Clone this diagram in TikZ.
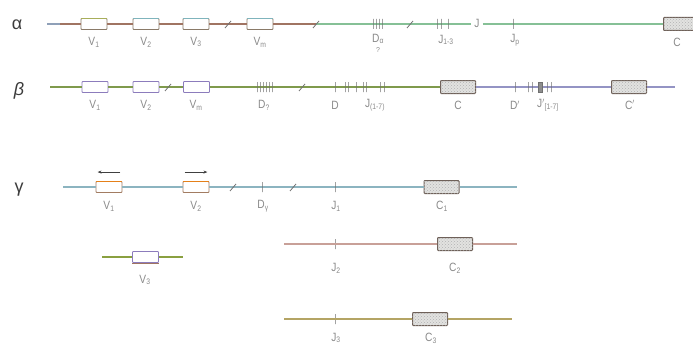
\documentclass[tikz,border=0pt]{standalone}
\usepackage{fontspec}
\setsansfont{Liberation Sans}
\usetikzlibrary{patterns,arrows.meta}
\definecolor{labcol}{HTML}{8A8A8A}
\definecolor{greekcol}{HTML}{3C3C3C}
\definecolor{stubA}{HTML}{8FA0B8}
\definecolor{brownA}{HTML}{A07462}
\definecolor{greenA}{HTML}{86C096}
\definecolor{oliveB}{HTML}{7F9A4C}
\definecolor{lavB}{HTML}{9494C4}
\definecolor{tealG}{HTML}{8CB4C0}
\definecolor{oliveV}{HTML}{8AA040}
\definecolor{pinkJ}{HTML}{C8A098}
\definecolor{tanJ}{HTML}{B4A464}
\definecolor{boxA}{HTML}{8A7A68}
\definecolor{boxB}{HTML}{8C7CBC}
\definecolor{boxG}{HTML}{A27C62}
\definecolor{cedge}{HTML}{6E6058}
\definecolor{cfill}{HTML}{E2E2E0}
\definecolor{barcol}{HTML}{707070}
\definecolor{topY}{HTML}{A8AE5A}
\definecolor{topC}{HTML}{7FB4BC}
\newcommand\topedge[2]{\draw[#2, line width=0.9pt] (#1.north west) -- (#1.north east);}
\newcommand\lbl[1]{\scalebox{0.85}[1]{#1}}
\begin{document}
\begin{tikzpicture}[x=1pt,y=-1pt,
  geneline/.style={line width=1.3pt},
  vbox/.style={draw=#1, fill=white, minimum width=26pt, minimum height=11pt, inner sep=0pt, line width=0.9pt, rounded corners=0.8pt},
  cbox/.style={draw=cedge, fill=cfill, minimum width=35pt, minimum height=13pt, inner sep=0pt, line width=1pt, rounded corners=0.8pt,
    postaction={pattern=crosshatch dots, pattern color=black!30}},
  bar/.style={draw=barcol, minimum height=10pt, minimum width=0pt, inner sep=0pt, line width=0.8pt},
  blockbar/.style={draw=barcol, fill=barcol!80, minimum height=10pt, minimum width=4pt, inner sep=0pt, line width=0.5pt},
  brk/.style={draw=barcol, line width=0.8pt},
  lab/.style={text=labcol, font=\sffamily\fontsize{12}{12}\selectfont, inner sep=0pt},
  greek/.style={text=greekcol, font=\sffamily\fontsize{18}{18}\selectfont, inner sep=0pt},
  dirarrow/.style={draw=black!75, line width=0.8pt, -{Stealth[length=4pt,width=3pt]}}
]
\useasboundingbox (0,0) rectangle (693,345);

% ---------------- alpha locus ----------------
\node[greek] (alpha) at (17,25) {α};
\coordinate (aS) at (47,24);
\coordinate (aT) at (60,24);
\node[vbox=boxA] (aV1) at (94,24) {};
\node[vbox=boxA] (aV2) at (146,24) {};
\node[vbox=boxA] (aV3) at (196,24) {};
\coordinate (aB1) at (228,24);
\node[vbox=boxA] (aVm) at (260,24) {};
\coordinate (aB2) at (316,24);
\coordinate (aB3) at (410,24);
\node[text=labcol, font=\sffamily\fontsize{12}{12}\selectfont, inner sep=3pt, anchor=center] (aJ) at (477,24) {\raisebox{1pt}{\lbl{J}}};
\node[cbox] (aC) at (681,24) {};
\draw[geneline, stubA] (aS) -- (aT);
\draw[geneline, brownA] (aT) -- (aV1) -- (aV2) -- (aV3) -- (aVm) -- (aB2);
\draw[geneline, greenA] (aB2) -- (aJ) -- (aC);
\topedge{aV1}{topY}
\topedge{aV2}{topC}
\topedge{aV3}{topC}
\topedge{aVm}{topC}
\draw[brk] ([shift={(-3,4)}]aB1) -- ([shift={(3,-3)}]aB1);
\draw[brk] ([shift={(-3,4)}]aB2) -- ([shift={(3,-3)}]aB2);
\draw[brk] ([shift={(-3,4)}]aB3) -- ([shift={(3,-3)}]aB3);
\foreach \x/\n in {373/1,376/2,379/3,382/4} \node[bar] (aD\n) at (\x,24) {};
\foreach \x/\n in {437/1,441/2,448/3} \node[bar] (aJJ\n) at (\x,24) {};
\node[bar] (aJp) at (513,24) {};
\node[lab] (laV1) at (94,42) {\lbl{V\textsubscript{1}}};
\node[lab] (laV2) at (146,42) {\lbl{V\textsubscript{2}}};
\node[lab] (laV3) at (196,42) {\lbl{V\textsubscript{3}}};
\node[lab] (laVm) at (260,42) {\lbl{V\textsubscript{m}}};
\node[lab] (laD) at (378,39) {\lbl{D\textsubscript{α}}};
\node[lab, font=\sffamily\fontsize{7}{7}\selectfont] (laDq) at (378,50) {?};
\node[lab] (laJ) at (446,40) {\lbl{J\textsubscript{1-3}}};
\node[lab] (laJp) at (515,40) {\lbl{J\textsubscript{p}}};
\node[lab] (laC) at (677,42) {\lbl{C}};

% ---------------- beta locus ----------------
\node[greek, font=\sffamily\itshape\fontsize{18}{18}\selectfont] (beta) at (19,91) {β};
\coordinate (bS) at (50,87);
\node[vbox=boxB] (bV1) at (95,87) {};
\node[vbox=boxB] (bV2) at (146,87) {};
\coordinate (bB1) at (168,87);
\node[vbox=boxB] (bVm) at (196.5,87) {};
\coordinate (bB2) at (302,87);
\node[cbox] (bC) at (458,87) {};
\node[cbox] (bCp) at (629,87) {};
\coordinate (bE) at (675,87);
\draw[geneline, oliveB] (bS) -- (bV1) -- (bV2) -- (bVm) -- (bC);
\draw[geneline, lavB] (bC) -- (bCp) -- (bE);
\draw[brk] ([shift={(-3,4)}]bB1) -- ([shift={(3,-3)}]bB1);
\draw[brk] ([shift={(-3,4)}]bB2) -- ([shift={(3,-3)}]bB2);
\foreach \x/\n in {257/1,260/2,263/3,266/4,269/5,272/6} \node[bar] (bDg\n) at (\x,87) {};
\node[bar] (bD) at (335,87) {};
\foreach \x/\n in {345/1,348/2,356/3,363/4,366/5,380/6,384/7} \node[bar] (bJ\n) at (\x,87) {};
\node[bar] (bDp) at (515,87) {};
\foreach \x/\n in {528/1,532/2,547/3,551/4} \node[bar] (bJp\n) at (\x,87) {};
\node[blockbar] (bJpk) at (540,87) {};
\node[lab] (lbV1) at (95,105) {\lbl{V\textsubscript{1}}};
\node[lab] (lbV2) at (146,105) {\lbl{V\textsubscript{2}}};
\node[lab] (lbVm) at (196,105) {\lbl{V\textsubscript{m}}};
\node[lab] (lbDg) at (264,105) {\lbl{D\textsubscript{?}}};
\node[lab] (lbD) at (335,105) {\lbl{D}};
\node[lab] (lbJ) at (375,105) {\lbl{J\textsubscript{(1-7)}}};
\node[lab] (lbC) at (458,105) {\lbl{C}};
\node[lab] (lbDp) at (515,105) {\lbl{D$'$}};
\node[lab] (lbJp) at (548,105) {\lbl{J$'$\textsubscript{[1-7]}}};
\node[lab] (lbCp) at (630,105) {\lbl{C$'$}};

% ---------------- gamma locus ----------------
\node[greek] (gamma) at (19,190) {γ};
\coordinate (gS) at (63,187);
\node[vbox=boxG] (gV1) at (109,187) {};
\node[vbox=boxG] (gV2) at (196,187) {};
\coordinate (gB1) at (233,187);
\coordinate (gB2) at (293,187);
\node[cbox] (gC1) at (441.5,187) {};
\coordinate (gE) at (517,187);
\draw[geneline, tealG] (gS) -- (gV1) -- (gV2) -- (gC1) -- (gE);
\topedge{gV1}{orange!60!brown}
\topedge{gV2}{orange!60!brown}
\draw[brk] ([shift={(-3,4)}]gB1) -- ([shift={(3,-3)}]gB1);
\draw[brk] ([shift={(-3,4)}]gB2) -- ([shift={(3,-3)}]gB2);
\node[bar] (gD) at (262,187) {};
\node[bar] (gJ1) at (335,187) {};
\draw[dirarrow] ([shift={(-2pt,9pt)}]gV1.north east) -- ([shift={(2pt,9pt)}]gV1.north west);
\draw[dirarrow] ([shift={(2pt,9pt)}]gV2.north west) -- ([shift={(-2pt,9pt)}]gV2.north east);
\node[lab] (lgV1) at (109,206) {\lbl{V\textsubscript{1}}};
\node[lab] (lgV2) at (196,206) {\lbl{V\textsubscript{2}}};
\node[lab] (lgD) at (263,206) {\lbl{D\textsubscript{γ}}};
\node[lab] (lgJ1) at (336,206) {\lbl{J\textsubscript{1}}};
\node[lab] (lgC1) at (442,206) {\lbl{C\textsubscript{1}}};

% separate V3 segment
\coordinate (vS) at (102,257);
\node[vbox=boxB] (gV3) at (145.5,257) {};
\coordinate (vE) at (183,257);
\draw[geneline, oliveV] (vS) -- (gV3) -- (vE);
\draw[brownA, line width=0.9pt] (gV3.south west) -- (gV3.south east);
\node[lab] (lgV3) at (145,280) {\lbl{V\textsubscript{3}}};

% J2 - C2 segment
\coordinate (j2S) at (284,244);
\node[bar] (gJ2) at (335,244) {};
\node[cbox] (gC2) at (455,244) {};
\coordinate (j2E) at (517,244);
\draw[geneline, pinkJ] (j2S) -- (gC2) -- (j2E);
\node[lab] (lgJ2) at (336,268) {\lbl{J\textsubscript{2}}};
\node[lab] (lgC2) at (455,268) {\lbl{C\textsubscript{2}}};

% J3 - C3 segment
\coordinate (j3S) at (284,319);
\node[bar] (gJ3) at (335,319) {};
\node[cbox] (gC3) at (430,319) {};
\coordinate (j3E) at (512,319);
\draw[geneline, tanJ] (j3S) -- (gC3) -- (j3E);
\node[lab] (lgJ3) at (336,338) {\lbl{J\textsubscript{3}}};
\node[lab] (lgC3) at (431,338) {\lbl{C\textsubscript{3}}};
\end{tikzpicture}
\end{document}
